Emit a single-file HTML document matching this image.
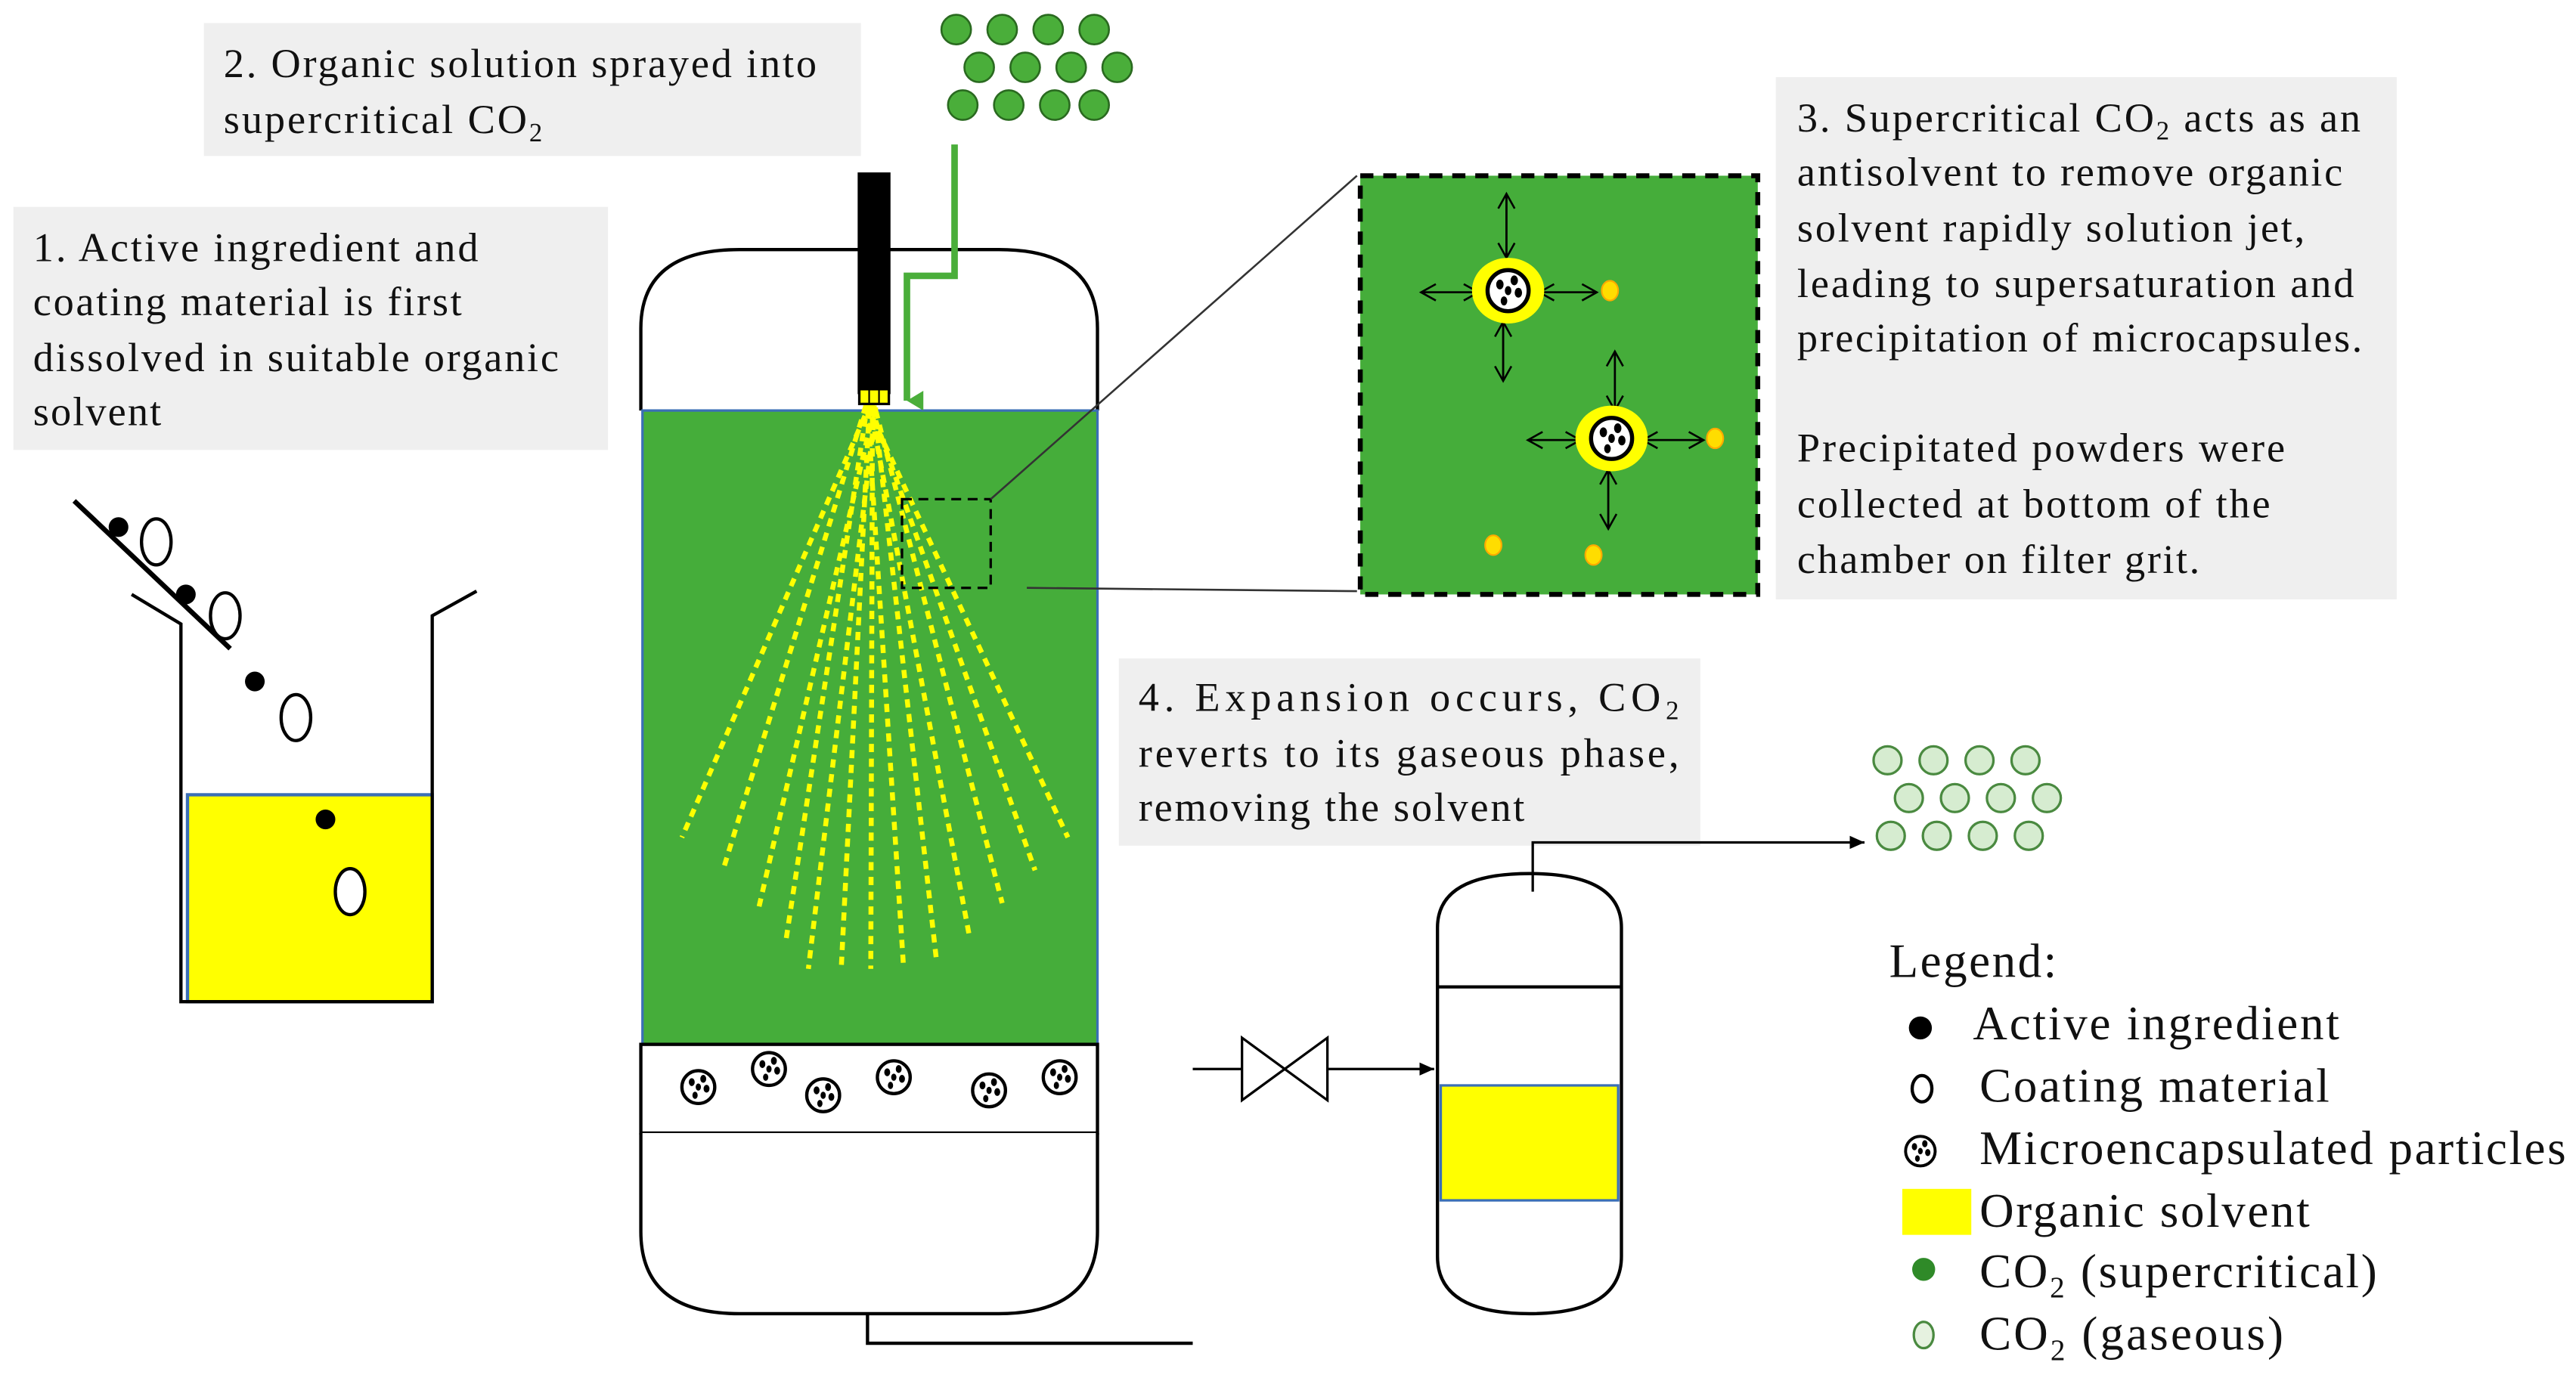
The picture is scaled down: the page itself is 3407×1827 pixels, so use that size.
<!DOCTYPE html>
<html><head><meta charset="utf-8"><style>
html,body{margin:0;padding:0;background:#fff;}
svg{display:block;}
text{font-family:"Liberation Serif","Times New Roman",serif;fill:#111;}
</style></head><body>
<svg width="3407" height="1827" viewBox="0 0 1568 841" xmlns="http://www.w3.org/2000/svg" font-family="Liberation Serif, Times New Roman, serif">
<defs>
<marker id="ah" markerWidth="10" markerHeight="10" refX="9" refY="5" orient="auto" markerUnits="userSpaceOnUse"><path d="M0,1 L9,5 L0,9 z" fill="#000"/></marker>
<marker id="oa" markerWidth="12" markerHeight="12" refX="10" refY="6" orient="auto" markerUnits="userSpaceOnUse"><path d="M1,1 L10,6 L1,11" fill="none" stroke="#000" stroke-width="1.2"/></marker>
<marker id="ga" markerWidth="14" markerHeight="14" refX="7" refY="12" orient="auto" markerUnits="userSpaceOnUse"><path d="M1,2 L7,12 L13,2 z" fill="#4aae3a"/></marker>
<g id="mp"><circle r="10" fill="#fff" stroke="#000" stroke-width="2"/><ellipse cx="-4" cy="-3" rx="1.8" ry="2.4" fill="#000"/><ellipse cx="3" cy="-5" rx="1.8" ry="2.4" fill="#000"/><ellipse cx="0" cy="0" rx="1.6" ry="2.2" fill="#000"/><ellipse cx="5" cy="1" rx="1.8" ry="2.4" fill="#000"/><ellipse cx="-2" cy="5" rx="1.6" ry="2.2" fill="#000"/></g>
<g id="sc"><circle r="9" fill="#4aae3a" stroke="#2a6a20" stroke-width="1.2"/></g>
<g id="gc"><circle r="8.5" fill="#d6ecd0" stroke="#4a8a40" stroke-width="1.5"/></g>
</defs>

<g font-size="25">
<rect x="124" y="14" width="400" height="81" fill="#efefef"/>
<text x="136" y="47" textLength="361" lengthAdjust="spacing">2. Organic solution sprayed into</text>
<text x="136" y="81" textLength="194" lengthAdjust="spacing">supercritical CO<tspan font-size="16" dy="5">2</tspan></text>

<rect x="8" y="126" width="362" height="148" fill="#efefef"/>
<text x="20" y="159" textLength="271" lengthAdjust="spacing">1. Active ingredient and</text>
<text x="20" y="192" textLength="261" lengthAdjust="spacing">coating material is first</text>
<text x="20" y="226" textLength="320" lengthAdjust="spacing">dissolved in suitable organic</text>
<text x="20" y="259" textLength="78" lengthAdjust="spacing">solvent</text>

<rect x="1081" y="47" width="378" height="318" fill="#efefef"/>
<text x="1094" y="80" textLength="343" lengthAdjust="spacing">3. Supercritical CO<tspan font-size="16" dy="5">2</tspan><tspan dy="-5"> acts as an</tspan></text>
<text x="1094" y="113" textLength="332" lengthAdjust="spacing">antisolvent to remove organic</text>
<text x="1094" y="147" textLength="309" lengthAdjust="spacing">solvent rapidly solution jet,</text>
<text x="1094" y="181" textLength="339" lengthAdjust="spacing">leading to supersaturation and</text>
<text x="1094" y="214" textLength="344" lengthAdjust="spacing">precipitation of microcapsules.</text>
<text x="1094" y="281" textLength="297" lengthAdjust="spacing">Precipitated powders were</text>
<text x="1094" y="315" textLength="288" lengthAdjust="spacing">collected at bottom of the</text>
<text x="1094" y="349" textLength="245" lengthAdjust="spacing">chamber on filter grit.</text>

<rect x="681" y="401" width="354" height="114" fill="#efefef"/>
<text x="693" y="433" textLength="329" lengthAdjust="spacing">4. Expansion occurs, CO<tspan font-size="16" dy="5">2</tspan></text>
<text x="693" y="467" textLength="329" lengthAdjust="spacing">reverts to its gaseous phase,</text>
<text x="693" y="500" textLength="235" lengthAdjust="spacing">removing the solvent</text>
</g>

<use href="#sc" x="582" y="18"/><use href="#sc" x="610" y="18"/><use href="#sc" x="638" y="18"/><use href="#sc" x="666" y="18"/>
<use href="#sc" x="596" y="41"/><use href="#sc" x="624" y="41"/><use href="#sc" x="652" y="41"/><use href="#sc" x="680" y="41"/>
<use href="#sc" x="586" y="64"/><use href="#sc" x="614" y="64"/><use href="#sc" x="642" y="64"/><use href="#sc" x="666" y="64"/>

<rect x="114" y="484" width="149" height="126" fill="#ffff00" stroke="#3b6fb6" stroke-width="2"/>
<path d="M80,362 L110,380 L110,610 L263,610 L263,375 L290,360" fill="none" stroke="#000" stroke-width="2"/>
<line x1="45" y1="305" x2="140" y2="395" stroke="#000" stroke-width="3"/>
<circle cx="72" cy="321" r="6" fill="#000"/><circle cx="113" cy="362" r="6" fill="#000"/><circle cx="155" cy="415" r="6" fill="#000"/><circle cx="198" cy="499" r="6" fill="#000"/>
<g fill="#fff" stroke="#000" stroke-width="2"><ellipse cx="95" cy="330" rx="9" ry="14"/><ellipse cx="137" cy="375" rx="9" ry="14"/><ellipse cx="180" cy="437" rx="9" ry="14"/><ellipse cx="213" cy="543" rx="9" ry="14"/></g>

<path d="M390,250 L390,200 Q390,152 450,152 L608,152 Q668,152 668,200 L668,250" fill="#fff" stroke="#000" stroke-width="2"/>
<rect x="391" y="250" width="277" height="386" fill="#45ad3a" stroke="#3b6fb6" stroke-width="1.5"/>
<rect x="390" y="636" width="278" height="54" fill="#fff" stroke="#000" stroke-width="2"/>
<path d="M390,690 L390,750 Q390,800 450,800 L608,800 Q668,800 668,750 L668,690" fill="#fff" stroke="#000" stroke-width="2"/>
<path d="M528,800 L528,818 L726,818" fill="none" stroke="#000" stroke-width="2"/>
<use href="#mp" x="425" y="662"/><use href="#mp" x="468" y="651"/><use href="#mp" x="501" y="667"/><use href="#mp" x="544" y="656"/><use href="#mp" x="602" y="664"/><use href="#mp" x="645" y="656"/>

<g stroke="#ffff00" stroke-width="3" stroke-dasharray="5,4" fill="none">
<line x1="530" y1="245" x2="415" y2="510"/><line x1="527" y1="247" x2="440" y2="530"/><line x1="532" y1="249" x2="462" y2="552"/><line x1="528" y1="246" x2="478" y2="575"/><line x1="533" y1="248" x2="492" y2="590"/><line x1="529" y1="250" x2="512" y2="590"/><line x1="531" y1="246" x2="530" y2="590"/><line x1="528" y1="249" x2="550" y2="590"/><line x1="532" y1="247" x2="570" y2="585"/><line x1="529" y1="245" x2="590" y2="570"/><line x1="533" y1="250" x2="610" y2="550"/><line x1="530" y1="248" x2="630" y2="530"/><line x1="527" y1="246" x2="650" y2="510"/>
</g>
<rect x="522" y="105" width="20" height="135" fill="#000"/>
<rect x="523" y="237" width="18" height="9" fill="#ffff00" stroke="#000" stroke-width="1.5"/>
<line x1="529" y1="237" x2="529" y2="246" stroke="#000"/><line x1="535" y1="237" x2="535" y2="246" stroke="#000"/>
<path d="M581,88 L581,168 L552,168 L552,244" fill="none" stroke="#4aae3a" stroke-width="4" marker-end="url(#ga)"/>

<rect x="549" y="304" width="54" height="54" fill="none" stroke="#000" stroke-width="1.5" stroke-dasharray="6,4"/>
<line x1="603" y1="304" x2="826" y2="107" stroke="#333" stroke-width="1.2"/>
<line x1="625" y1="358" x2="826" y2="360" stroke="#333" stroke-width="1.2"/>
<rect x="828" y="107" width="242" height="255" fill="#45ad3a" stroke="#000" stroke-width="3" stroke-dasharray="8,6"/>
<g stroke="#000" stroke-width="1.2">
<line x1="917" y1="157" x2="917" y2="118" marker-end="url(#oa)"/><line x1="917" y1="118" x2="917" y2="157" marker-end="url(#oa)"/>
<line x1="915" y1="196" x2="915" y2="232" marker-end="url(#oa)"/><line x1="915" y1="232" x2="915" y2="196" marker-end="url(#oa)"/>
<line x1="900" y1="178" x2="865" y2="178" marker-end="url(#oa)"/><line x1="865" y1="178" x2="900" y2="178" marker-end="url(#oa)"/>
<line x1="937" y1="178" x2="972" y2="178" marker-end="url(#oa)"/><line x1="972" y1="178" x2="937" y2="178" marker-end="url(#oa)"/>
<line x1="983" y1="250" x2="983" y2="214" marker-end="url(#oa)"/><line x1="983" y1="214" x2="983" y2="250" marker-end="url(#oa)"/>
<line x1="979" y1="286" x2="979" y2="322" marker-end="url(#oa)"/><line x1="979" y1="322" x2="979" y2="286" marker-end="url(#oa)"/>
<line x1="962" y1="268" x2="930" y2="268" marker-end="url(#oa)"/><line x1="930" y1="268" x2="962" y2="268" marker-end="url(#oa)"/>
<line x1="1000" y1="268" x2="1037" y2="268" marker-end="url(#oa)"/><line x1="1037" y1="268" x2="1000" y2="268" marker-end="url(#oa)"/>
</g>
<ellipse cx="918" cy="177" rx="22" ry="20" fill="#ffff00"/><ellipse cx="981" cy="267" rx="22" ry="20" fill="#ffff00"/>
<g transform="translate(918,177) scale(1.25)"><use href="#mp"/></g>
<g transform="translate(981,267) scale(1.25)"><use href="#mp"/></g>
<g fill="#ffdd00" stroke="#ffaa00" stroke-width="1"><ellipse cx="980" cy="177" rx="5" ry="6"/><ellipse cx="1044" cy="267" rx="5" ry="6"/><ellipse cx="909" cy="332" rx="5" ry="6"/><ellipse cx="970" cy="338" rx="5" ry="6"/></g>

<path d="M875,590 L875,565 Q875,532 931,532 Q987,532 987,565 L987,765 Q987,800 931,800 Q875,800 875,765 Z" fill="#fff" stroke="#000" stroke-width="2"/>
<line x1="875" y1="601" x2="987" y2="601" stroke="#000" stroke-width="2"/>
<rect x="877" y="661" width="108" height="70" fill="#ffff00" stroke="#3b6fb6" stroke-width="1.5"/>
<path d="M933,543 L933,513 L1135,513" fill="none" stroke="#000" stroke-width="1.5" marker-end="url(#ah)"/>
<use href="#gc" x="1149" y="463"/><use href="#gc" x="1177" y="463"/><use href="#gc" x="1205" y="463"/><use href="#gc" x="1233" y="463"/>
<use href="#gc" x="1162" y="486"/><use href="#gc" x="1190" y="486"/><use href="#gc" x="1218" y="486"/><use href="#gc" x="1246" y="486"/>
<use href="#gc" x="1151" y="509"/><use href="#gc" x="1179" y="509"/><use href="#gc" x="1207" y="509"/><use href="#gc" x="1235" y="509"/>

<line x1="726" y1="651" x2="756" y2="651" stroke="#000" stroke-width="1.5"/>
<path d="M756,632 L808,670 L808,632 L756,670 Z" fill="#fff" stroke="#000" stroke-width="1.5"/>
<line x1="808" y1="651" x2="873" y2="651" stroke="#000" stroke-width="1.5" marker-end="url(#ah)"/>

<g font-size="29">
<text x="1150" y="595" textLength="102" lengthAdjust="spacing">Legend:</text>
<circle cx="1169" cy="626" r="7" fill="#000"/>
<text x="1201" y="633" textLength="223" lengthAdjust="spacing">Active ingredient</text>
<ellipse cx="1170" cy="663" rx="6" ry="8" fill="#fff" stroke="#000" stroke-width="2"/>
<text x="1205" y="671" textLength="213" lengthAdjust="spacing">Coating material</text>
<g transform="translate(1169,701) scale(0.9)"><use href="#mp"/></g>
<text x="1205" y="709" textLength="357" lengthAdjust="spacing">Microencapsulated particles</text>
<rect x="1158" y="724" width="42" height="28" fill="#ffff00"/>
<text x="1205" y="747" textLength="201" lengthAdjust="spacing">Organic solvent</text>
<circle cx="1171" cy="773" r="7" fill="#2f8a28"/>
<text x="1205" y="784" textLength="242" lengthAdjust="spacing">CO<tspan font-size="18" dy="6">2</tspan><tspan dy="-6"> (supercritical)</tspan></text>
<ellipse cx="1171" cy="813" rx="6" ry="8" fill="#e6f2e0" stroke="#4a8a40" stroke-width="1.5"/>
<text x="1205" y="822" textLength="185" lengthAdjust="spacing">CO<tspan font-size="18" dy="6">2</tspan><tspan dy="-6"> (gaseous)</tspan></text>
</g>
</svg>
</body></html>
